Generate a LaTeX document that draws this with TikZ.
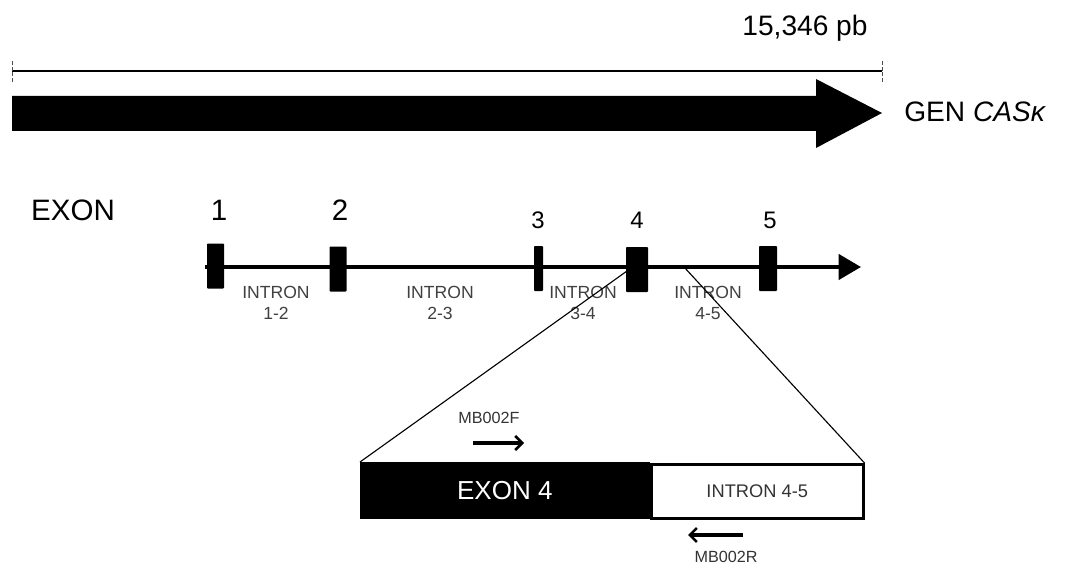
\documentclass[tikz,border=0pt]{standalone}
\usepackage{fontspec}
\setmainfont{Liberation Sans}
\usetikzlibrary{arrows.meta}
\newcommand{\pxu}{0.025cm}
\begin{document}
\begin{tikzpicture}[x=0.025cm, y=-0.025cm,
	exonbox/.style={fill=black, inner sep=0pt, minimum height=45*\pxu, rounded corners=0.6pt},
	intronlab/.style={align=center, text=black!75, font=\fontsize{12.5}{15}\selectfont, inner sep=0pt},
	primerlab/.style={text=black!80, font=\fontsize{11.5}{13}\selectfont, inner sep=0pt},
	primer/.style={line width=2.2pt, -{Straight Barb[length=5pt, width=10pt, line width=1.8pt]}},
	bignum/.style={font=\fontsize{21}{24}\selectfont, inner sep=0pt},
	smallnum/.style={font=\fontsize{17}{20}\selectfont, inner sep=0pt}]
	\useasboundingbox (0,0) rectangle (1067,565);
	% scale bar
	\coordinate (sl) at (12,71);
	\coordinate (sr) at (882,71);
	\draw[line width=0.9pt] (sl) -- (sr);
	\draw[black!70, line width=0.6pt, dash pattern=on 3pt off 1pt] ([yshift=0.25cm]sl) -- ([yshift=-0.3cm]sl);
	\draw[black!70, line width=0.6pt, dash pattern=on 3pt off 1pt] ([yshift=0.25cm]sr) -- ([yshift=-0.3cm]sr);
	\node[font=\fontsize{20}{24}\selectfont, inner sep=0pt] (len) at (805,28) {15,346 pb};
	% gene arrow
	\fill (12,96) -- (816,96) -- (816,79) -- (882,113) -- (816,148) -- (816,131) -- (12,131) -- cycle;
	\node[anchor=mid west, font=\fontsize{20}{24}\selectfont, inner sep=0pt] (gen) at (904,118) {GEN {\itshape CASκ}};
	% exons
	\node[font=\fontsize{21}{24}\selectfont, inner sep=0pt] (exlab) at (73,210) {EXON};
	\node[bignum] (n1) at (219,210) {1};
	\node[bignum] (n2) at (340,210) {2};
	\node[smallnum] (n3) at (538,220) {3};
	\node[smallnum] (n4) at (637,220) {4};
	\node[smallnum] (n5) at (770,220) {5};
	\coordinate (gs) at (205,267);
	\coordinate (ge) at (861,267);
	\draw[line width=2.8pt, -{Triangle[length=16pt, width=18pt]}] (gs) -- (ge);
	\node[exonbox, minimum width=17*\pxu] (e1) at (215.5,266) {};
	\node[exonbox, minimum width=17*\pxu] (e2) at (338,269) {};
	\node[exonbox, minimum width=9*\pxu] (e3) at (538.5,268.5) {};
	\node[exonbox, minimum width=22*\pxu] (e4) at (637,269.5) {};
	\node[exonbox, minimum width=18*\pxu] (e5) at (768,268.5) {};
	% introns
	\node[intronlab] (i12) at (276,303) {INTRON\\1-2};
	\node[intronlab] (i23) at (440,303) {INTRON\\2-3};
	\node[intronlab] (i34) at (583,303) {INTRON\\3-4};
	\node[intronlab] (i45) at (708,303) {INTRON\\4-5};
	% enlarged region
	\node[fill=black, draw=black, minimum width=289*\pxu, minimum height=56*\pxu, anchor=north west, inner sep=0pt,
		text=white, font=\fontsize{18.5}{21}\selectfont] (ex4) at (360,462) {EXON 4};
	\node[draw=black, line width=1.8pt, fill=white, minimum width=212*\pxu, minimum height=54*\pxu, anchor=north west, inner sep=0pt,
		text=black!80, font=\fontsize{13}{16}\selectfont] (in45) at (650,463) {INTRON 4-5};
	\coordinate (zl) at (627,271);
	\coordinate (zr) at (684,267);
	\draw[line width=0.8pt] (zl) -- (ex4.north west);
	\draw[line width=0.8pt] (zr) -- (in45.north east);
	% primers
	\node[primerlab] (mbf) at (489,418) {MB002F};
	\coordinate (fa) at (473,443);
	\coordinate (fb) at (524,443);
	\draw[primer] (fa) -- (fb);
	\node[primerlab] (mbr) at (726,557) {MB002R};
	\coordinate (ra) at (743,535);
	\coordinate (rb) at (688,535);
	\draw[primer] (ra) -- (rb);
\end{tikzpicture}
\end{document}
